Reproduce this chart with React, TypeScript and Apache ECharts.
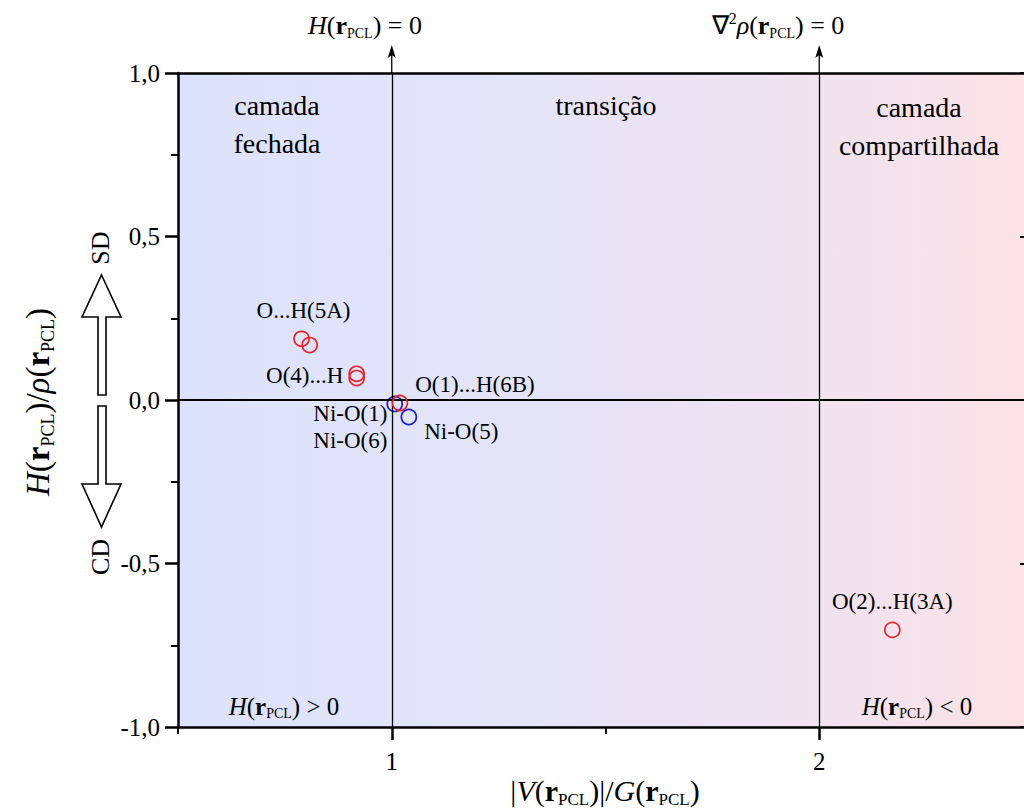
import React, { useEffect, useRef } from 'react';
import * as echarts from 'echarts';

// |V|/G ratio (x) and H/rho (y) at the bond critical points
const hbondNames = ['O...H(5A)', '', 'O(4)...H', '', 'O(1)...H(6B)', 'O(2)...H(3A)'];
const hbondX = [0.789, 0.808, 0.918, 0.918, 1.019, 2.171];
const hbondY = [0.187, 0.168, 0.080, 0.067, -0.009, -0.703];

const nickelNames = ['Ni-O(1)\nNi-O(6)', 'Ni-O(5)'];
const nickelX = [1.007, 1.040];
const nickelY = [-0.012, -0.052];

const xTicks = [1, 2];
const xMinorTicks = [0.5, 1.5, 2.5];
const regionBounds = [1, 2];

const FONT = '"Liberation Serif", "Times New Roman", serif';
const INK = '#000000';

function rich(fs: number) {
  const base = { fontFamily: FONT, fontSize: fs, color: INK, fill: INK };
  return {
    n: { ...base },
    i: { ...base, fontStyle: 'italic' },
    b: { ...base, fontWeight: 'bold' },
    s: { ...base, fontSize: Math.round(fs * 0.55), padding: [Math.round(fs * 0.6), 0, 0, 0] },
    sp: { ...base, fontSize: Math.round(fs * 0.6), padding: [0, 0, Math.round(fs * 0.5), 0] },
  };
}

const labelPlacement: Record<string, any> = {
  'O...H(5A)': { position: 'top', offset: [2, -2], align: 'center' },
  'O(4)...H': { position: 'left', offset: [0, 2], align: 'right' },
  'O(1)...H(6B)': { position: 'right', offset: [2, -18], align: 'left' },
  'O(2)...H(3A)': { position: 'top', offset: [0, -2], align: 'center' },
  'Ni-O(1)\nNi-O(6)': { position: 'left', offset: [6, 23], align: 'right' },
  'Ni-O(5)': { position: 'right', offset: [2, 14], align: 'left' },
};

function points(names: string[], xs: number[], ys: number[]) {
  return xs.map((x, k) => {
    const name = names[k];
    const item: any = { value: [x, ys[k]], name };
    if (name) {
      const p = labelPlacement[name];
      item.label = {
        show: true,
        formatter: '{b}',
        position: p.position,
        offset: p.offset,
        align: p.align,
        fontFamily: FONT,
        fontSize: 23,
        lineHeight: 27,
        color: INK,
        opacity: 1,
      };
    }
    return item;
  });
}

function text(x: number, y: number, str: string, fs: number, extra: any = {}) {
  return {
    type: 'text',
    x,
    y,
    z: 20,
    ...extra,
    style: {
      text: str,
      rich: rich(fs),
      fontFamily: FONT,
      fontSize: fs,
      fill: INK,
      align: 'center',
      verticalAlign: 'middle',
      lineHeight: Math.round(fs * 1.35),
    },
  };
}

function hollowArrow(pts: number[][]) {
  return {
    type: 'polygon',
    z: 20,
    shape: { points: pts },
    style: { fill: '#ffffff', stroke: INK, lineWidth: 1.6 },
  };
}

const fmt = (v: number) => v.toFixed(1).replace('.', ',');

export default function App() {
  const ref = useRef<HTMLDivElement>(null);

  useEffect(() => {
    if (!ref.current) return;
    const chart = echarts.init(ref.current, undefined, { renderer: 'svg' });

    const boundLines = regionBounds.map((x) => [{ coord: [x, -1] }, { coord: [x, 1] }]);

    const annotations: any[] = [
      text(365, 25, '{i|H}{n|(}{b|r}{s|PCL}{n|) = 0}', 26),
      text(778, 25, '{n|∇}{sp|2}{i|ρ}{n|(}{b|r}{s|PCL}{n|) = 0}', 26),
      text(277, 124, 'camada\nfechada', 28),
      text(606, 105, 'transição', 28),
      text(919, 126, 'camada\ncompartilhada', 28),
      text(284, 706, '{i|H}{n|(}{b|r}{s|PCL}{n|) > 0}', 25),
      text(917, 706, '{i|H}{n|(}{b|r}{s|PCL}{n|) < 0}', 25),
      text(605, 790, '{n||}{i|V}{n|(}{b|r}{s|PCL}{n|)|/}{i|G}{n|(}{b|r}{s|PCL}{n|)}', 30),
      text(38, 402, '{i|H}{n|(}{b|r}{s|PCL}{n|)/}{i|ρ}{n|(}{b|r}{s|PCL}{n|)}', 33, { rotation: Math.PI / 2 }),
      text(100, 248, 'SD', 26, { rotation: Math.PI / 2 }),
      text(100, 557, 'CD', 26, { rotation: Math.PI / 2 }),
      hollowArrow([
        [101.5, 275], [121, 317], [106, 317], [106, 395], [98, 395], [98, 317], [82, 317],
      ]),
      hollowArrow([
        [98, 406], [106, 406], [106, 484], [121, 484], [101.5, 527], [82, 484], [98, 484],
      ]),
    ];

    const option: any = {
      animation: false,
      backgroundColor: '#ffffff',
      grid: {
        left: 178,
        top: 73,
        width: 855,
        height: 654,
        show: true,
        borderWidth: 0,
        backgroundColor: new echarts.graphic.LinearGradient(0, 0, 1, 0, [
          { offset: 0, color: '#dce2fb' },
          { offset: 0.3, color: '#e2e4f9' },
          { offset: 0.6, color: '#ebe3f4' },
          { offset: 1, color: '#fbe2e6' },
        ]),
      },
      xAxis: [
        {
          type: 'value',
          min: 0.5,
          max: 2.5,
          interval: 0.5,
          position: 'bottom',
          splitLine: { show: false },
          axisLine: { show: true, onZero: false, lineStyle: { color: INK, width: 2.5 } },
          axisTick: { show: true, customValues: xTicks, length: 13, lineStyle: { color: INK, width: 2.5 } },
          axisLabel: {
            customValues: xTicks,
            formatter: (v: number) => String(v),
            margin: 22,
            fontFamily: FONT,
            fontSize: 25,
            color: INK,
          },
        },
        {
          type: 'value',
          min: 0.5,
          max: 2.5,
          interval: 0.5,
          position: 'bottom',
          splitLine: { show: false },
          axisLine: { show: false, onZero: false },
          axisTick: { show: true, customValues: xMinorTicks, length: 7, lineStyle: { color: INK, width: 2 } },
          axisLabel: { show: false },
        },
        {
          type: 'value',
          min: 0.5,
          max: 2.5,
          position: 'top',
          splitLine: { show: false },
          axisLine: { show: true, onZero: false, lineStyle: { color: INK, width: 2.5 } },
          axisTick: { show: false },
          axisLabel: { show: false },
        },
      ],
      yAxis: [
        {
          type: 'value',
          min: -1,
          max: 1,
          interval: 0.5,
          position: 'left',
          splitLine: { show: false },
          axisLine: { show: true, onZero: false, lineStyle: { color: INK, width: 2.5 } },
          axisTick: { show: true, length: 13, lineStyle: { color: INK, width: 2.5 } },
          minorTick: { show: true, splitNumber: 2, length: 7, lineStyle: { color: INK, width: 2 } },
          axisLabel: { formatter: fmt, margin: 18, fontFamily: FONT, fontSize: 25, color: INK },
        },
        {
          type: 'value',
          min: -1,
          max: 1,
          interval: 0.5,
          position: 'right',
          splitLine: { show: false },
          axisLine: { show: true, onZero: false, lineStyle: { color: INK, width: 2.5 } },
          axisTick: { show: true, inside: true, length: 13, lineStyle: { color: INK, width: 2 } },
          minorTick: { show: true, splitNumber: 2, length: 6, lineStyle: { color: '#888', width: 1 } },
          axisLabel: { show: false },
        },
      ],
      series: [
        {
          name: 'guides',
          type: 'scatter',
          data: [],
          silent: true,
          z: 1,
          markLine: {
            silent: true,
            symbol: ['none', 'none'],
            label: { show: false },
            lineStyle: { color: INK, width: 1.3, type: 'solid' },
            data: boundLines,
          },
        },
        {
          name: 'zero',
          type: 'scatter',
          data: [],
          silent: true,
          z: 1,
          markLine: {
            silent: true,
            symbol: ['none', 'none'],
            label: { show: false },
            lineStyle: { color: INK, width: 2, type: 'solid' },
            data: [{ yAxis: 0 }],
          },
        },
        {
          name: 'hbond',
          type: 'scatter',
          symbol: 'circle',
          symbolSize: 15,
          z: 5,
          itemStyle: { color: 'transparent', borderColor: '#e8232b', borderWidth: 1.7, opacity: 1 },
          data: points(hbondNames, hbondX, hbondY),
        },
        {
          name: 'nickel',
          type: 'scatter',
          symbol: 'circle',
          symbolSize: 15,
          z: 4,
          itemStyle: { color: 'transparent', borderColor: '#1d1dd0', borderWidth: 1.7, opacity: 1 },
          data: points(nickelNames, nickelX, nickelY),
        },
      ],
      graphic: annotations,
    };

    chart.setOption(option);

    // arrows continuing the region boundaries above the plot frame
    const arrows: any[] = [];
    regionBounds.forEach((x) => {
      const [px, py] = chart.convertToPixel({ xAxisIndex: 0, yAxisIndex: 0 }, [x, 1]) as number[];
      const tip = py - 28;
      arrows.push({
        type: 'line',
        z: 20,
        shape: { x1: px, y1: py, x2: px, y2: tip + 8 },
        style: { stroke: INK, lineWidth: 1.3 },
      });
      arrows.push({
        type: 'polygon',
        z: 20,
        shape: { points: [[px, tip], [px + 4, tip + 13], [px, tip + 10], [px - 4, tip + 13]] },
        style: { fill: INK },
      });
    });
    chart.setOption({ graphic: [...annotations, ...arrows] });

    return () => chart.dispose();
  }, []);

  return (
    <div style={{ position: 'fixed', left: 0, top: 0, width: 1024, height: 810, overflow: 'hidden', background: '#fff' }}>
      <div ref={ref} style={{ width: 1060, height: 810 }} />
    </div>
  );
}
